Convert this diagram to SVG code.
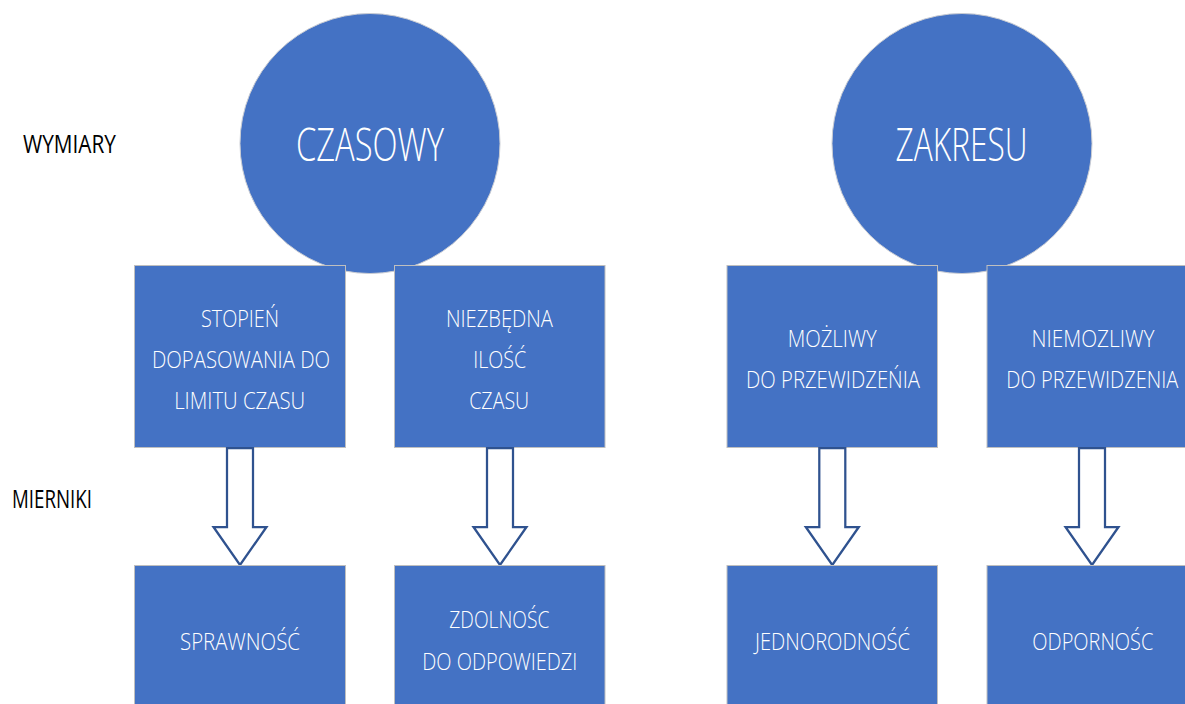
<svg xmlns="http://www.w3.org/2000/svg" xmlns:xlink="http://www.w3.org/1999/xlink" width="1185" height="704" viewBox="0 0 1185 704">
  <style>
    .bg { fill: #ffffff; }
    .circle { fill: #4472C4; stroke: #C9CCD3; stroke-width: 1; }
    .box { fill: #4472C4; stroke: #BFBFBF; stroke-width: 1; }
    .arrow { fill: #ffffff; stroke: #2F528F; stroke-width: 2.25; stroke-linejoin: miter; }
    text { font-family: "Open Sans", "Liberation Sans", sans-serif; font-weight: 350; }
    .big { fill: #ffffff; font-size: 46px; text-anchor: middle; }
    .lbl { fill: #ffffff; font-size: 24px; text-anchor: middle; }
    .side { fill: #000000; font-size: 25px; font-weight: 400; }
  </style>
  <defs>
    <!-- hollow block arrow, origin at the top centre of the shaft -->
    <path id="blockArrow" class="arrow" d="M-13,0 H13 V79 H26.5 L0,117 L-26.5,79 H-13 Z"/>
  </defs>

  <rect class="bg" x="0" y="0" width="1185" height="704"/>

  <!-- row labels -->
  <g id="label-wymiary">
    <text class="side" x="23" y="153" textLength="93" lengthAdjust="spacingAndGlyphs">WYMIARY</text>
  </g>
  <g id="label-mierniki">
    <text class="side" x="12" y="508" textLength="80" lengthAdjust="spacingAndGlyphs">MIERNIKI</text>
  </g>

  <!-- dimension circles -->
  <g id="circle-czasowy">
    <circle class="circle" cx="370" cy="143.5" r="130"/>
    <text class="big" x="370" y="161" textLength="148" lengthAdjust="spacingAndGlyphs">CZASOWY</text>
  </g>
  <g id="circle-zakresu">
    <circle class="circle" cx="962" cy="143.5" r="130"/>
    <text class="big" x="961.5" y="160.5" textLength="132" lengthAdjust="spacingAndGlyphs">ZAKRESU</text>
  </g>

  <!-- upper boxes -->
  <g id="box-stopien">
    <rect class="box" x="134.5" y="265.5" width="211" height="182"/>
    <text class="lbl" x="240" y="326.7" textLength="78" lengthAdjust="spacingAndGlyphs">STOPIEŃ</text>
    <text class="lbl" x="241" y="368.3" textLength="178" lengthAdjust="spacingAndGlyphs">DOPASOWANIA DO</text>
    <text class="lbl" x="239.7" y="409" textLength="131" lengthAdjust="spacingAndGlyphs">LIMITU CZASU</text>
  </g>
  <g id="box-niezbedna">
    <rect class="box" x="394.5" y="265.5" width="210.5" height="182"/>
    <text class="lbl" x="499.4" y="326.7" textLength="107" lengthAdjust="spacingAndGlyphs">NIEZBĘDNA</text>
    <text class="lbl" x="499.7" y="368.3" textLength="53" lengthAdjust="spacingAndGlyphs">ILOŚĆ</text>
    <text class="lbl" x="499.2" y="409" textLength="60" lengthAdjust="spacingAndGlyphs">CZASU</text>
  </g>
  <g id="box-mozliwy">
    <rect class="box" x="727" y="265.5" width="210.5" height="182"/>
    <text class="lbl" x="832.2" y="346.7" textLength="89" lengthAdjust="spacingAndGlyphs">MOŻLIWY</text>
    <text class="lbl" x="833" y="388.3" textLength="174" lengthAdjust="spacingAndGlyphs">DO PRZEWIDZEŃIA</text>
  </g>
  <g id="box-niemozliwy">
    <rect class="box" x="987" y="265.5" width="210.5" height="182"/>
    <text class="lbl" x="1093" y="346.7" textLength="123" lengthAdjust="spacingAndGlyphs">NIEMOZLIWY</text>
    <text class="lbl" x="1092.3" y="388.3" textLength="172" lengthAdjust="spacingAndGlyphs">DO PRZEWIDZENIA</text>
  </g>

  <!-- connectors -->
  <g id="connectors">
    <use xlink:href="#blockArrow" href="#blockArrow" transform="translate(240,448)"/>
    <use xlink:href="#blockArrow" href="#blockArrow" transform="translate(500,448)"/>
    <use xlink:href="#blockArrow" href="#blockArrow" transform="translate(832.3,448)"/>
    <use xlink:href="#blockArrow" href="#blockArrow" transform="translate(1092,448)"/>
  </g>

  <!-- lower boxes -->
  <g id="box-sprawnosc">
    <rect class="box" x="134.5" y="565.5" width="211" height="182"/>
    <text class="lbl" x="240" y="650" textLength="120" lengthAdjust="spacingAndGlyphs">SPRAWNOŚĆ</text>
  </g>
  <g id="box-zdolnosc">
    <rect class="box" x="394.5" y="565.5" width="210.5" height="182"/>
    <text class="lbl" x="499.3" y="628.3" textLength="100" lengthAdjust="spacingAndGlyphs">ZDOLNOŚC</text>
    <text class="lbl" x="499.8" y="670" textLength="155" lengthAdjust="spacingAndGlyphs">DO ODPOWIEDZI</text>
  </g>
  <g id="box-jednorodnosc">
    <rect class="box" x="727" y="565.5" width="210.5" height="182"/>
    <text class="lbl" x="832.5" y="650" textLength="155" lengthAdjust="spacingAndGlyphs">JEDNORODNOŚĆ</text>
  </g>
  <g id="box-odpornosc">
    <rect class="box" x="987" y="565.5" width="210.5" height="182"/>
    <text class="lbl" x="1092.8" y="650" textLength="121" lengthAdjust="spacingAndGlyphs">ODPORNOŚC</text>
  </g>
</svg>
